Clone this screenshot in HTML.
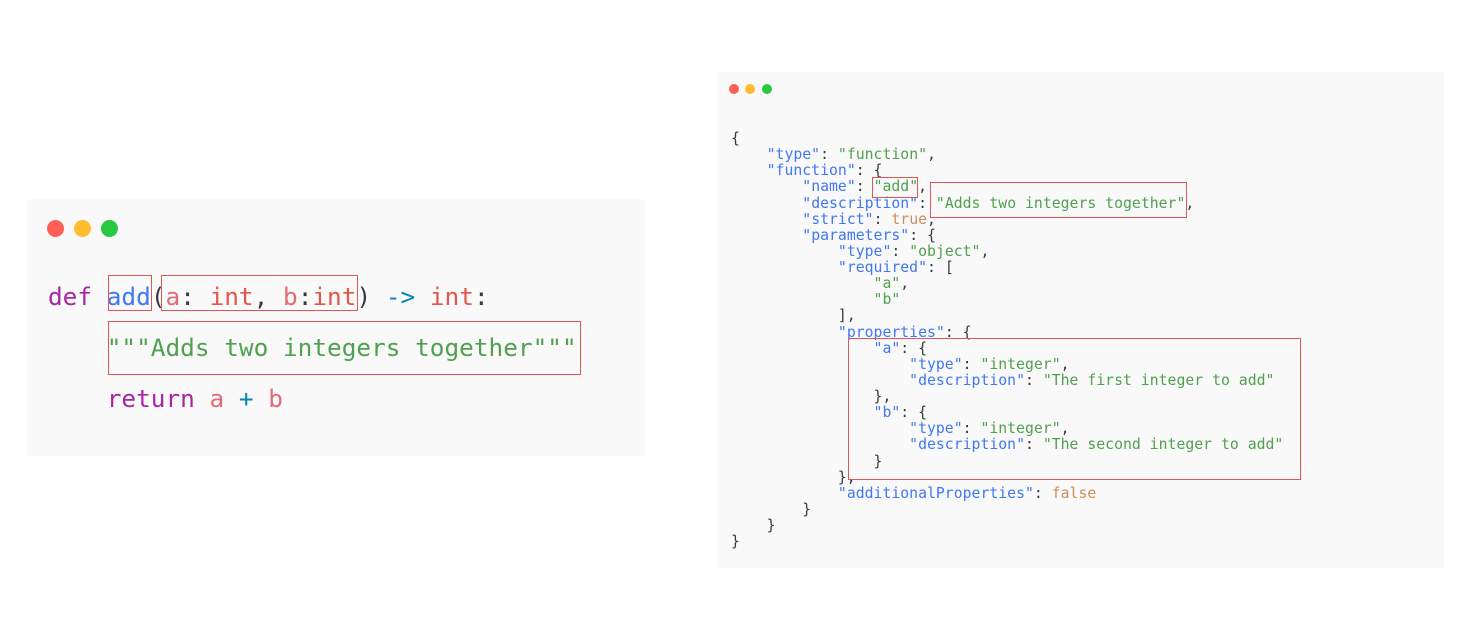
<!DOCTYPE html>
<html><head><meta charset="utf-8"><style>
body{margin:0;width:1466px;height:641px;background:#fff;position:relative;overflow:hidden}
.panel{position:absolute;background:#f9f9f9;border-radius:3px}
.dot{position:absolute;border-radius:50%}
pre{position:absolute;margin:0;font-family:"DejaVu Sans Mono","Liberation Mono",monospace;color:#383a42;white-space:pre}
.k{color:#a626a4}.f{color:#4078f2}.r{color:#e45649}.o{color:#0184bc}.s{color:#50a14f}.b{color:#4078f2}.n{color:#c9905a}.p{color:#e06c75}
.box{position:absolute;border:1.5px solid #e05555;box-sizing:border-box}
</style></head><body>
<div class="panel" style="left:27px;top:199px;width:618px;height:257px"></div>
<div class="dot" style="left:47px;top:220px;width:17px;height:17px;background:#fe5f57"></div>
<div class="dot" style="left:74px;top:220px;width:17px;height:17px;background:#febc2e"></div>
<div class="dot" style="left:101px;top:220px;width:17px;height:17px;background:#28c840"></div>
<pre style="left:48px;top:271px;font-size:24.4px;line-height:51px"><span class="k">def</span> <span class="f">add</span>(<span class="p">a</span>: <span class="r">int</span>, <span class="p">b</span>:<span class="r">int</span>) <span class="o">-&gt;</span> <span class="r">int</span>:
    <span class="s">"""Adds two integers together"""</span>
    <span class="k">return</span> <span class="p">a</span> <span class="o">+</span> <span class="p">b</span></pre>
<div class="box" style="left:108px;top:275px;width:44px;height:36px"></div>
<div class="box" style="left:161px;top:275px;width:197px;height:36px"></div>
<div class="box" style="left:108px;top:321px;width:473px;height:54px"></div>

<div class="panel" style="left:717px;top:72px;width:727px;height:496px"></div>
<div class="dot" style="left:729px;top:84px;width:10px;height:10px;background:#fe5f57"></div>
<div class="dot" style="left:745px;top:84px;width:10px;height:10px;background:#febc2e"></div>
<div class="dot" style="left:762px;top:84px;width:10px;height:10px;background:#28c840"></div>
<pre style="left:731px;top:131px;font-size:14.8px;line-height:16.12px">{
    <span class="b">"type"</span>: <span class="s">"function"</span>,
    <span class="b">"function"</span>: {
        <span class="b">"name"</span>: <span class="s">"add"</span>,
        <span class="b">"description"</span>: <span class="s">"Adds two integers together"</span>,
        <span class="b">"strict"</span>: <span class="n">true</span>,
        <span class="b">"parameters"</span>: {
            <span class="b">"type"</span>: <span class="s">"object"</span>,
            <span class="b">"required"</span>: [
                <span class="s">"a"</span>,
                <span class="s">"b"</span>
            ],
            <span class="b">"properties"</span>: {
                <span class="b">"a"</span>: {
                    <span class="b">"type"</span>: <span class="s">"integer"</span>,
                    <span class="b">"description"</span>: <span class="s">"The first integer to add"</span>
                },
                <span class="b">"b"</span>: {
                    <span class="b">"type"</span>: <span class="s">"integer"</span>,
                    <span class="b">"description"</span>: <span class="s">"The second integer to add"</span>
                }
            },
            <span class="b">"additionalProperties"</span>: <span class="n">false</span>
        }
    }
}</pre>
<div class="box" style="left:872px;top:177px;width:46px;height:21px"></div>
<div class="box" style="left:930px;top:182px;width:257px;height:36px"></div>
<div class="box" style="left:848px;top:338px;width:453px;height:142px"></div>
</body></html>
